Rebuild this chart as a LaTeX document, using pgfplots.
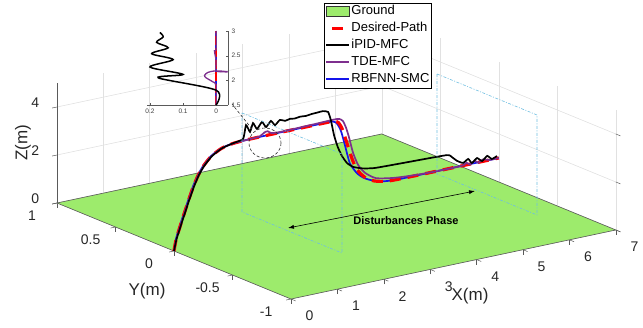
\documentclass[border=0pt]{standalone}
\usepackage{fontspec}
\setmainfont{Liberation Sans}
\usepackage{pgfplots}
\pgfplotsset{compat=1.18}
\usetikzlibrary{arrows.meta}
\definecolor{ground}{RGB}{157,235,108}
\definecolor{tde}{RGB}{126,47,142}
\definecolor{rbf}{RGB}{20,20,235}
\definecolor{dist}{RGB}{110,190,225}
\definecolor{gridc}{RGB}{225,225,225}
\definecolor{axc}{RGB}{90,90,90}
\begin{document}
\begin{tikzpicture}
\useasboundingbox (0pt,0pt) rectangle (643pt,-328pt);
\begin{axis}[
  x={(46.4pt,9.86pt)}, y={(-117pt,48pt)}, z={(0pt,24pt)},
  anchor=origin, at={(174pt,-251pt)},
  xmin=0,xmax=7,ymin=-1,ymax=1,zmin=0,zmax=5,
  xtick={0,1,...,7}, ytick={-1,-0.5,0,0.5,1}, ztick={0,2,4},
  grid=major, major grid style={gridc, line width=0.6pt},
  axis line style={draw=none},
  tick pos=left,
  tick align=outside, major tick length=5pt,
  tick style={axc, line width=0.5pt},
  /pgf/number format/assume math mode=true,
  tick label style={font=\fontsize{14}{16}\selectfont, text=black!85},
  xticklabel style={anchor=center, xshift=14pt, yshift=-15pt},
  yticklabel style={anchor=center, xshift=-20pt, yshift=-12pt},
  zticklabel style={anchor=center, xshift=-17pt, yshift=2pt},
  clip=false,
  legend style={at={(0.4776,1.04)}, anchor=north west, draw=black, line width=0.5pt, fill=white,
    font=\fontsize{13}{14}\selectfont, inner sep=1pt, row sep=2pt,
    nodes={inner sep=1pt, text height=10pt, text depth=3pt}},
  legend cell align=left,
]
\addplot3[fill=ground, draw=axc, line width=0.6pt, forget plot] coordinates {(0,-1,0) (7,-1,0) (7,1,0) (0,1,0) (0,-1,0)};
\draw[axc, line width=0.6pt] (axis cs:0,1,0) -- (axis cs:0,1,5);
% RBFNN-SMC
\addplot3[rbf, line width=1.7pt, smooth, tension=0.4, forget plot] coordinates {
(0,0,0) (0.035,0,0.44) (0.12,0,0.96) (0.212,0,1.48) (0.307,0,2.0) (0.406,0,2.51) (0.514,0,2.95) (0.637,0,3.31) (0.80,0,3.63) (1.02,0,3.86) (1.27,0,3.96) (1.64,0,3.99) (2.2,0,4.0) (2.8,0,4.0) (3.3,0,4.0) (3.42,0,3.99) (3.5,0,3.9) (3.56,0,3.7) (3.61,0,3.45) (3.69,0,2.85) (3.79,0,2.1) (3.94,0,1.63) (4.08,0,1.38) (4.22,0,1.23) (4.4,0,1.1) (4.59,0,1.03) (4.9,0,1.0) (6,0,1.0) (7,0,1.0)};
% Desired
\addplot3[red, line width=3.2pt, dash pattern=on 11pt off 7pt, smooth, tension=0.4, forget plot] coordinates {
(0,0,0) (0.043,0,0.44) (0.129,0,0.96) (0.222,0,1.48) (0.317,0,2.0) (0.416,0,2.51) (0.524,0,2.95) (0.647,0,3.31) (0.81,0,3.63) (1.03,0,3.86) (1.28,0,3.96) (1.64,0,3.99) (2.2,0,4.0) (2.8,0,4.0) (3.35,0,4.0) (3.47,0,3.98) (3.55,0,3.88) (3.62,0,3.62) (3.69,0,3.2) (3.76,0,2.75) (3.84,0,2.25) (3.92,0,1.85) (4.03,0,1.55) (4.16,0,1.3) (4.31,0,1.15) (4.48,0,1.06) (4.7,0,1.01) (5.2,0,1.0) (6.0,0,1.0) (7.0,0,1.0)};
% TDE-MFC
\addplot3[tde, line width=1.7pt, smooth, tension=0.4, forget plot] coordinates {
(0,0,0) (0.045,0,0.44) (0.131,0,0.96) (0.224,0,1.48) (0.319,0,2.0) (0.418,0,2.51) (0.526,0,2.95) (0.649,0,3.31) (0.81,0,3.63) (1.03,0,3.86) (1.28,0,3.96) (1.64,0,3.99) (1.85,0,4.02) (1.95,0,4.14) (2.02,0,4.16) (2.1,0,4.05) (2.3,0,4.02) (3.0,0,4.04) (3.45,0,4.06) (3.56,0,4.04) (3.64,0,3.92) (3.71,0,3.6) (3.77,0,3.2) (3.86,0,2.5) (3.97,0,1.95) (4.12,0,1.56) (4.35,0,1.25) (4.7,0,1.11) (5.1,0,1.04) (5.6,0,1.0) (6.2,0,1.0) (6.3,0,1.09) (6.38,0,0.98) (6.48,0,1.1) (6.56,0,0.98) (6.66,0,1.08) (6.8,0,1.0) (7.0,0,1.0)};
% iPID-MFC
\addplot3[black, line width=1.7pt, smooth, tension=0.3, forget plot] coordinates {
(0,0,0) (0.05,0,0.44) (0.14,0,0.96) (0.235,0,1.48) (0.33,0,2.0) (0.43,0,2.5) (0.535,0,2.94) (0.66,0,3.3) (0.82,0,3.62) (1.04,0,3.86) (1.28,0,3.97) (1.49,0,4.06) (1.552,0,4.61) (1.638,0,4.29) (1.703,0,4.63) (1.789,0,4.35) (1.897,0,4.6) (1.983,0,4.35) (2.09,0,4.56) (2.177,0,4.35) (2.28,0,4.52) (2.4,0,4.44) (2.5,0,4.48) (2.6,0,4.45) (2.716,0,4.48) (2.85,0,4.46) (2.97,0,4.49) (3.1,0,4.5) (3.21,0,4.51) (3.32,0,4.43) (3.38,0,4.07) (3.45,0,3.4) (3.53,0,2.88) (3.62,0,2.47) (3.73,0,2.13) (3.86,0,1.92) (4.05,0,1.78) (4.33,0,1.68) (5.1,0,1.63) (5.88,0,1.58) (5.99,0,1.45) (6.1,0,1.25) (6.23,0,1.11) (6.34,0,1.23) (6.42,0,1.03) (6.53,0,1.19) (6.64,0,1.02) (6.75,0,1.19) (6.85,0,1.02) (6.96,0,1.1)};
\addlegendimage{legend image code/.code={\draw[fill=ground,draw=black!80,line width=0.5pt] (0pt,-5pt) rectangle (23pt,5pt);}}
\addlegendentry{Ground}
\addlegendimage{legend image code/.code={\draw[red,line width=3.5pt] (6pt,0pt) -- (17pt,0pt);}}
\addlegendentry{Desired-Path}
\addlegendimage{legend image code/.code={\draw[black,line width=2.3pt] (0pt,0pt) -- (23pt,0pt);}}
\addlegendentry{iPID-MFC}
\addlegendimage{legend image code/.code={\draw[tde,line width=2.3pt] (0pt,0pt) -- (23pt,0pt);}}
\addlegendentry{TDE-MFC}
\addlegendimage{legend image code/.code={\draw[rbf,line width=2.3pt] (0pt,0pt) -- (23pt,0pt);}}
\addlegendentry{RBFNN-SMC}
\end{axis}
% inset
\begin{axis}[
  at={(147pt,-105pt)}, anchor=south west, scale only axis, width=81pt, height=74pt,
  x dir=reverse, xmin=-0.036, xmax=0.209, ymin=1.5, ymax=3,
  axis x line*=bottom, axis y line*=right,
  xtick={0,0.1,0.2}, ytick={1.5,2,2.5,3},
  /pgf/number format/assume math mode=true,
  tick label style={font=\fontsize{6.5}{7}\selectfont, text=black!75},
  tick align=inside, major tick length=2pt,
  axis line style={axc, line width=0.5pt}, tick style={axc},
  clip=false,
]
\addplot[rbf, line width=1.2pt] coordinates {(0,1.5) (0,3.0)};
\addplot[red, line width=2.6pt, dash pattern=on 9pt off 3pt] coordinates {(0,1.5) (0,3.0)};
\addplot[tde, line width=1.3pt, smooth, tension=0.5] coordinates {(0,1.5) (0,1.9) (0.01,1.97) (0.03,2.05) (0.035,2.1) (0.025,2.16) (0.005,2.19) (-0.02,2.185) (-0.035,2.17) (-0.02,2.175) (0.0,2.2) (0.0,2.4) (0.005,2.6) (0,2.62) (0,3.0)};
\addplot[black, line width=1.5pt, smooth, tension=0.5] coordinates {(0,1.5) (0,1.8) (0.175,2.05) (0.10,2.12) (0.2,2.27) (0.13,2.42) (0.195,2.54) (0.145,2.66) (0.18,2.77) (0.16,2.88) (0.17,2.97)};
\end{axis}
\begin{scope}[x=1pt,y=-1pt]
\draw[dist, line width=0.6pt, dash pattern=on 3pt off 1.5pt on 1pt off 1.5pt] (242,113) -- (342,154) -- (342,253) -- (242,212) -- cycle;
\draw[dist, line width=0.6pt, dash pattern=on 3pt off 1.5pt on 1pt off 1.5pt] (437,74) -- (537,115) -- (537,215) -- (437,174) -- cycle;
\draw[black!80, line width=0.6pt, dash pattern=on 3pt off 2pt] (265,143) ellipse [x radius=16, y radius=15];
\draw[black!80, line width=0.6pt, dash pattern=on 3pt off 2pt] (252,129) -- (232,104);
\draw[black, line width=0.6pt, {Latex[length=6pt,width=4pt]}-{Latex[length=6pt,width=4pt]}] (288,228) -- (475,191);
\node[font=\bfseries\fontsize{11}{13}\selectfont] at (406,221) {Disturbances Phase};
\node[font=\fontsize{17}{19}\selectfont, rotate=90, text=black!85] at (23,143) {Z(m)};
\node[font=\fontsize{17}{19}\selectfont, text=black!85] at (147,291) {Y(m)};
\node[font=\fontsize{17}{19}\selectfont, text=black!85] at (470,296) {X(m)};
\end{scope}
\end{tikzpicture}
\end{document}
